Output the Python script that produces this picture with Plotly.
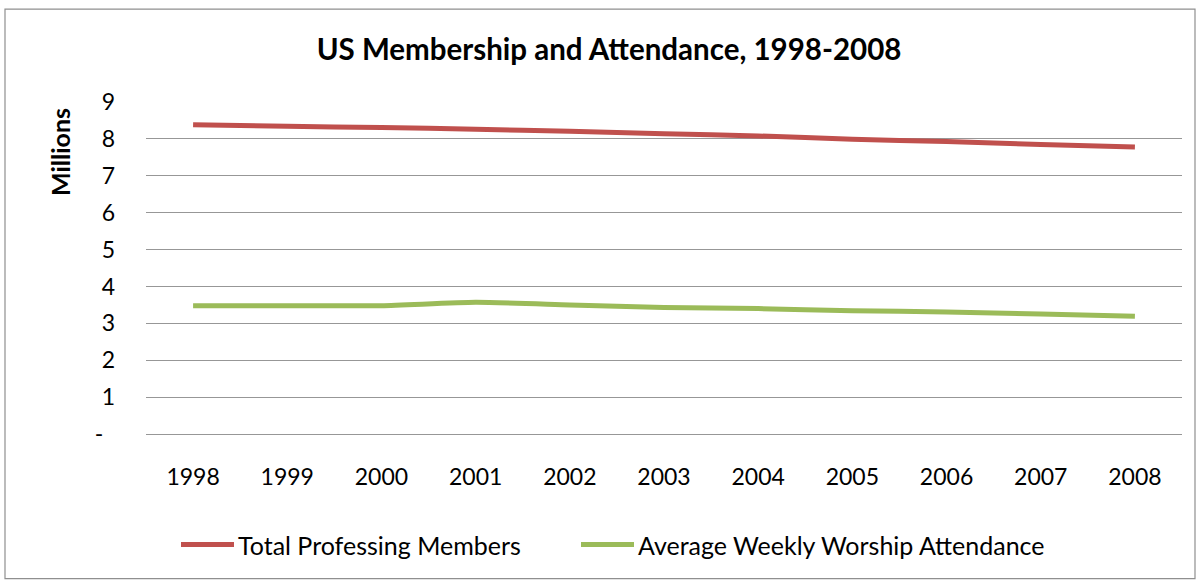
import plotly.graph_objects as go

# Data (millions)
years = ["1998", "1999", "2000", "2001", "2002", "2003", "2004", "2005", "2006", "2007", "2008"]
professing_members = [8.38, 8.34, 8.31, 8.26, 8.21, 8.14, 8.08, 7.99, 7.93, 7.85, 7.78]
weekly_attendance = [3.48, 3.48, 3.48, 3.57, 3.50, 3.43, 3.40, 3.34, 3.31, 3.25, 3.19]
y_tickvals = [0, 1, 2, 3, 4, 5, 6, 7, 8, 9]
y_ticktext = ["-\u00a0\u00a0", "1", "2", "3", "4", "5", "6", "7", "8", "9"]

RED = "#C0504D"
GREEN = "#9BBB59"
GRID = "#979797"
FONT = "Lato, Arial, sans-serif"

W, H = 1198, 580
L, R, T, B = 146, 1182, 102, 434.3


def px_x(p):
    return (p - L) / (R - L)


def px_y(p):
    return (B - p) / (B - T)


fig = go.Figure()
fig.add_trace(go.Scatter(x=years, y=professing_members, mode="lines",
                         name="Total Professing Members",
                         line=dict(color=RED, width=5, shape="spline", smoothing=0.6),
                         showlegend=False))
fig.add_trace(go.Scatter(x=years, y=weekly_attendance, mode="lines",
                         name="Average Weekly Worship Attendance",
                         line=dict(color=GREEN, width=5, shape="spline", smoothing=0.6),
                         showlegend=False))

shapes = [
    # outer chart border
    dict(type="rect", xref="paper", yref="paper",
         x0=px_x(5), x1=px_x(1195), y0=px_y(579), y1=px_y(9),
         line=dict(color="#8f8f8f", width=1.2), fillcolor="rgba(0,0,0,0)", layer="below"),
    # legend samples
    dict(type="line", xref="paper", yref="paper",
         x0=px_x(181), x1=px_x(234), y0=px_y(545), y1=px_y(545),
         line=dict(color=RED, width=5)),
    dict(type="line", xref="paper", yref="paper",
         x0=px_x(581), x1=px_x(634), y0=px_y(545), y1=px_y(545),
         line=dict(color=GREEN, width=5)),
]

annotations = [
    dict(text="<b>Millions</b>", xref="paper", yref="paper",
         x=px_x(60), y=px_y(152), textangle=-90, showarrow=False,
         font=dict(family=FONT, size=25, color="black"), xanchor="center", yanchor="middle"),
    dict(text="Total Professing Members", xref="paper", yref="paper",
         x=px_x(236), y=px_y(545), showarrow=False, xanchor="left", yanchor="middle",
         font=dict(family=FONT, size=25, color="black")),
    dict(text="Average Weekly Worship Attendance", xref="paper", yref="paper",
         x=px_x(636), y=px_y(545), showarrow=False, xanchor="left", yanchor="middle",
         font=dict(family=FONT, size=25, color="black")),
]

fig.update_layout(
    width=W, height=H,
    margin=dict(l=L, r=W - R, t=T, b=H - B),
    paper_bgcolor="white", plot_bgcolor="white",
    title=dict(text="<b>US Membership and Attendance, 1998-2008</b>",
               x=609 / W, xanchor="center", y=1 - 50 / H, yanchor="middle",
               font=dict(family=FONT, size=29.5, color="black")),
    shapes=shapes,
    annotations=annotations,
    xaxis=dict(type="category", range=[-0.5, 10.5], showgrid=False, showline=False,
               zeroline=False, ticks="", tickfont=dict(family=FONT, size=23, color="black"),
               ticklabelstandoff=27),
    yaxis=dict(range=[0, 9], tickvals=y_tickvals, ticktext=y_ticktext,
               showgrid=True, gridcolor=GRID, gridwidth=1.3,
               zeroline=True, zerolinecolor=GRID, zerolinewidth=1.3,
               showline=False, ticks="", tickfont=dict(family=FONT, size=23, color="black"),
               ticklabelstandoff=30),
    showlegend=False,
)

fig.write_html("out.html")
